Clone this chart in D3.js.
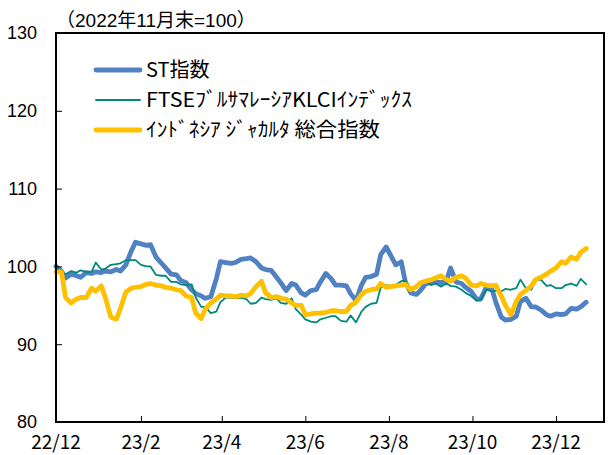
<!DOCTYPE html>
<html>
<head>
<meta charset="utf-8">
<script src="https://cdn.jsdelivr.net/npm/d3@7"></script>
<style>
  body { margin: 0; background: #fff; }
  text { font-family: "Liberation Sans", Arial, sans-serif; fill: #000; }
  .jp { font-family: "Noto Sans CJK JP", sans-serif; }
  .mixed { font-family: "Liberation Sans", "Noto Sans CJK JP", sans-serif; }
</style>
</head>
<body>
<svg id="chart" width="612" height="455"></svg>
<script>
'use strict';

// observation dates (roughly every 3-4 days)
const dates = [
  "2022-12-01","2022-12-05","2022-12-08","2022-12-12","2022-12-16","2022-12-19","2022-12-23","2022-12-27","2022-12-30",
  "2023-01-03","2023-01-06","2023-01-10","2023-01-14","2023-01-17","2023-01-21","2023-01-25","2023-01-28",
  "2023-02-01","2023-02-05","2023-02-08","2023-02-12","2023-02-16","2023-02-19","2023-02-23","2023-02-27",
  "2023-03-02","2023-03-06","2023-03-10","2023-03-13","2023-03-17","2023-03-20","2023-03-24","2023-03-28","2023-03-31",
  "2023-04-04","2023-04-08","2023-04-11","2023-04-15","2023-04-19","2023-04-22","2023-04-26","2023-04-30",
  "2023-05-03","2023-05-07","2023-05-11","2023-05-14","2023-05-18","2023-05-22","2023-05-25","2023-05-29",
  "2023-06-01","2023-06-05","2023-06-09","2023-06-12","2023-06-16","2023-06-20","2023-06-23","2023-06-27",
  "2023-07-01","2023-07-04","2023-07-08","2023-07-12","2023-07-15","2023-07-19","2023-07-23","2023-07-26","2023-07-30",
  "2023-08-02","2023-08-06","2023-08-10","2023-08-13","2023-08-17","2023-08-21","2023-08-24","2023-08-28",
  "2023-09-01","2023-09-04","2023-09-08","2023-09-12","2023-09-15","2023-09-19","2023-09-23","2023-09-26","2023-09-30",
  "2023-10-04","2023-10-07","2023-10-11","2023-10-15","2023-10-18","2023-10-22","2023-10-25","2023-10-29",
  "2023-11-02","2023-11-05","2023-11-09","2023-11-13","2023-11-16","2023-11-20","2023-11-24","2023-11-27",
  "2023-12-01","2023-12-05","2023-12-08","2023-12-12","2023-12-16","2023-12-19","2023-12-23"
];

const stIndex = [
  100.0, 99.4, 98.5, 99.0, 98.8, 98.6, 99.2, 99.1, 99.3,
  99.2, 99.4, 99.3, 99.6, 99.4, 100.2, 102.0, 103.1,
  102.9, 102.7, 102.8, 101.2, 100.4, 99.8, 99.0, 98.9,
  98.2, 97.9, 97.0, 96.5, 96.2, 95.9, 96.1, 98.4, 100.6,
  100.5, 100.4, 100.5, 100.9, 101.0, 101.1, 100.6, 99.8,
  99.6, 99.5, 98.6, 97.9, 96.9, 97.8, 97.6, 96.6,
  96.3, 96.9, 97.0, 98.0, 99.1, 98.4, 97.6, 97.6,
  97.5, 96.5, 95.6, 97.6, 98.6, 98.7, 99.0, 101.5, 102.5,
  101.5, 100.2, 100.6, 98.0, 96.6, 96.4, 96.9, 97.8,
  97.9, 98.0, 97.9, 98.2, 99.8, 98.0, 97.8, 97.3, 96.8,
  95.8, 95.8, 97.3, 97.2, 95.4, 93.5, 93.1, 93.2,
  93.6, 95.5, 95.9, 94.8, 94.8, 94.4, 93.8, 93.6,
  93.9, 93.8, 93.9, 94.6, 94.5, 94.8, 95.4
];

const klciIndex = [
  100.2, 99.0, 99.0, 99.4, 99.2, 99.5, 99.3, 99.3, 100.5,
  99.6, 99.7, 100.2, 100.3, 100.4, 100.8, 100.8, 100.8,
  100.2, 100.0, 100.0, 98.9, 98.8, 98.8, 98.0, 98.0,
  97.7, 97.6, 97.7, 96.0, 94.8, 94.8, 94.0, 94.2, 95.4,
  96.0, 96.0, 95.9, 96.0, 95.8, 95.2, 95.3, 96.0,
  95.8, 95.7, 95.9, 95.3, 95.2, 95.9, 94.5, 93.8,
  93.2, 92.9, 92.8, 93.2, 93.4, 93.6, 93.6, 93.0,
  92.9, 93.7, 92.8, 94.2, 94.8, 95.2, 95.3, 97.3, 97.6,
  97.5, 97.6, 98.1, 98.2, 97.0, 97.2, 97.8, 98.0,
  97.6, 97.8, 97.4, 97.8, 97.5, 97.4, 97.0, 96.6, 96.2,
  95.6, 95.7, 97.0, 96.8, 96.9, 96.8, 97.1, 97.0,
  97.2, 98.3, 97.2, 97.0, 98.2, 98.3, 97.5, 97.6,
  97.2, 97.2, 97.6, 97.8, 97.5, 98.4, 97.7
];

const jciIndex = [
  99.3, 99.3, 96.0, 95.3, 95.8, 96.0, 96.0, 97.2, 96.8,
  97.5, 96.0, 93.5, 93.2, 94.6, 96.7, 97.2, 97.3,
  97.4, 97.7, 97.8, 97.6, 97.5, 97.3, 97.2, 97.0,
  96.9, 96.2, 96.0, 94.0, 93.3, 94.5, 95.3, 95.8, 96.3,
  96.2, 96.2, 96.1, 96.3, 96.2, 96.5, 97.4, 98.1,
  96.6, 96.0, 96.1, 95.9, 95.8, 95.3, 95.0, 95.0,
  93.8, 93.9, 94.0, 94.0, 94.1, 94.3, 94.3, 94.2,
  94.2, 95.0, 95.4, 96.4, 96.8, 97.0, 97.1, 97.8, 97.3,
  97.4, 97.5, 97.6, 97.7, 97.0, 97.4, 97.9, 98.1,
  98.3, 98.5, 98.8, 98.3, 98.1, 98.6, 98.8, 98.5, 97.6,
  97.5, 97.8, 97.6, 97.5, 97.6, 96.2, 95.0, 93.8,
  95.5, 96.4, 96.9, 97.5, 98.3, 98.6, 99.0, 99.4,
  99.8, 100.6, 100.4, 101.2, 100.9, 101.8, 102.3
];

const seriesNames = ["ST指数", "FTSEﾌﾞﾙｻﾏﾚｰｼｱKLCIｲﾝﾃﾞｯｸｽ", "ｲﾝﾄﾞﾈｼｱ ｼﾞｬｶﾙﾀ 総合指数"];
const seriesColors = ["#5081c3", "#00897b", "#ffc000"];
const seriesWidths = [4.8, 1.8, 4.8];
const legendLengths = [null, 266, 234];

const yTicks = [80, 90, 100, 110, 120, 130];
const xTickDates = ["2022-12-01", "2023-02-01", "2023-04-01", "2023-06-01", "2023-08-01", "2023-10-01", "2023-12-01"];
const xTickLabels = ["22/12", "23/2", "23/4", "23/6", "23/8", "23/10", "23/12"];
const subtitle = "（2022年11月末=100）";

const parseDate = d3.timeParse("%Y-%m-%d");
const margin = { top: 33, right: 8, bottom: 33, left: 56 };
const width = 612, height = 455;

const svg = d3.select("#chart");

const x = d3.scaleTime()
    .domain([parseDate("2022-12-01"), parseDate("2024-01-05")])
    .range([margin.left, width - margin.right]);
const y = d3.scaleLinear()
    .domain([80, 130])
    .range([height - margin.bottom, margin.top]);

const allSeries = [stIndex, klciIndex, jciIndex].map((vals, i) => ({
    name: seriesNames[i],
    color: seriesColors[i],
    width: seriesWidths[i],
    values: vals.map((v, j) => ({ date: parseDate(dates[j]), value: v }))
}));

// lines
const line = d3.line()
    .x(d => x(d.date))
    .y(d => y(d.value));

svg.append("g")
    .selectAll("path")
    .data(allSeries)
    .join("path")
    .attr("fill", "none")
    .attr("stroke", d => d.color)
    .attr("stroke-width", d => d.width)
    .attr("stroke-linejoin", "round")
    .attr("stroke-linecap", "round")
    .attr("d", d => line(d.values));

// y axis: labels outside, small ticks inside
const yAxis = d3.axisRight(y).tickValues(yTicks).tickSize(6).tickFormat("");
svg.append("g")
    .attr("transform", `translate(${margin.left},0)`)
    .call(yAxis)
    .call(g => g.select(".domain").remove())
    .call(g => g.selectAll("line").attr("stroke", "#000").attr("stroke-width", 1));

svg.append("g")
    .selectAll("text")
    .data(yTicks)
    .join("text")
    .attr("x", 37)
    .attr("y", d => y(d))
    .attr("dy", "0.35em")
    .attr("text-anchor", "end")
    .attr("font-size", 18)
    .text(d => d);

// x axis: ticks pointing up, labels below
const xAxis = d3.axisTop(x)
    .tickValues(xTickDates.map(parseDate))
    .tickSize(6)
    .tickFormat("");
svg.append("g")
    .attr("transform", `translate(0,${height - margin.bottom})`)
    .call(xAxis)
    .call(g => g.select(".domain").remove())
    .call(g => g.selectAll("line").attr("stroke", "#000").attr("stroke-width", 1));

svg.append("g")
    .selectAll("text")
    .data(xTickDates)
    .join("text")
    .attr("class", "jp")
    .attr("x", d => x(parseDate(d)))
    .attr("y", 449)
    .attr("text-anchor", "middle")
    .attr("font-size", 19)
    .text((d, i) => xTickLabels[i]);

// frame
svg.append("rect")
    .attr("x", margin.left)
    .attr("y", margin.top)
    .attr("width", width - margin.left - margin.right)
    .attr("height", height - margin.top - margin.bottom)
    .attr("fill", "none")
    .attr("stroke", "#000")
    .attr("stroke-width", 2);

// subtitle
svg.append("text")
    .attr("class", "mixed")
    .attr("x", 56)
    .attr("y", 27)
    .attr("font-size", 19)
    .text(subtitle);

// legend
const legend = svg.append("g")
    .selectAll("g")
    .data(allSeries)
    .join("g")
    .attr("transform", (d, i) => `translate(96,${70 + i * 30})`);

legend.append("line")
    .attr("x1", 0).attr("x2", 44)
    .attr("stroke", d => d.color)
    .attr("stroke-width", d => d.width)
    .attr("stroke-linecap", "round");

legend.append("text")
    .attr("class", "jp")
    .attr("x", 50)
    .attr("dy", "0.36em")
    .attr("font-size", 20)
    .each(function(d, i) {
        if (legendLengths[i]) {
            d3.select(this).attr("textLength", legendLengths[i]).attr("lengthAdjust", "spacingAndGlyphs");
        }
    })
    .text(d => d.name);
</script>
</body>
</html>
